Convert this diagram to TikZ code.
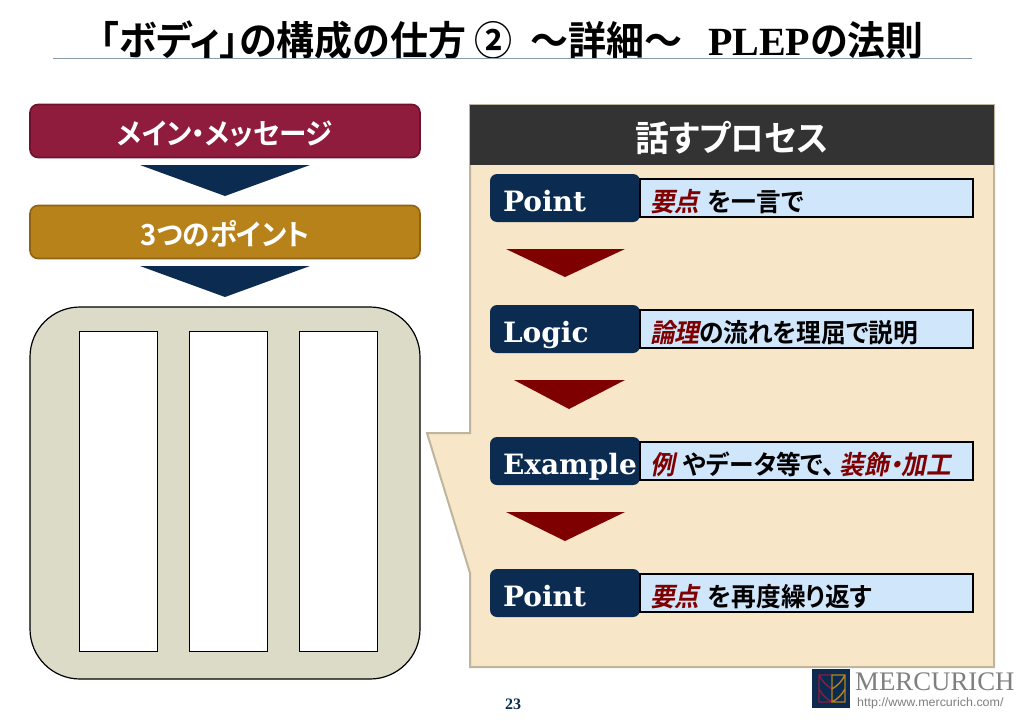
\documentclass[tikz,border=0pt]{standalone}
\usepackage{fontspec}
\usetikzlibrary{positioning}
\setmainfont{Liberation Serif}
\newfontfamily\jpfont{Noto Sans CJK JP Bold}[RawFeature=+palt,FakeStretch=0.95]
\newfontfamily\jpslant{Noto Sans CJK JP Bold}[RawFeature=+palt,FakeStretch=0.95,FakeSlant=0.2]
\newfontfamily\slabfont{DejaVu Serif}
\newfontfamily\urlfont{Liberation Sans}
\definecolor{wine}{HTML}{8F1B3D}
\definecolor{winedark}{HTML}{6E1230}
\definecolor{gold}{HTML}{B8821A}
\definecolor{golddark}{HTML}{8E6414}
\definecolor{navy}{HTML}{0B2B50}
\definecolor{darkred}{HTML}{7F0000}
\definecolor{sand}{HTML}{F7E6C8}
\definecolor{sandline}{HTML}{BFB49C}
\definecolor{khaki}{HTML}{DBDBC8}
\definecolor{barblue}{HTML}{D0E6FB}
\definecolor{rulegrey}{HTML}{8C9BA8}
\definecolor{logogrey}{HTML}{7F7F7F}
\newcommand{\redit}[1]{{\jpslant\color{darkred}#1}}
\begin{document}
\begin{tikzpicture}[x=1pt,y=-1pt]

\tikzstyle{headbox}=[rounded corners=8pt,line width=1.6pt,minimum width=390pt,minimum height=53pt,
	text=white,text height=26pt,text depth=0pt,font=\jpfont\fontsize{29}{29}\selectfont,outer sep=0pt]
\tikzstyle{column}=[draw=black,fill=white,line width=0.8pt,minimum width=78pt,minimum height=320pt,outer sep=0pt]
\tikzstyle{stepbox}=[fill=navy,rounded corners=7pt,minimum width=150pt,minimum height=48pt,inner sep=0pt,
	outer sep=0pt,text=white,text width=146pt,text height=26pt,text depth=0pt,align=left,
	execute at begin node=\hspace*{11pt},font=\slabfont\bfseries\fontsize{28}{28}\selectfont]
\tikzstyle{textbar}=[draw=black,fill=barblue,line width=1.4pt,minimum width=333pt,minimum height=38pt,inner sep=0pt,
	outer sep=0pt,text width=313pt,text height=26pt,text depth=0pt,align=left,font=\jpfont\fontsize{26}{26}\selectfont]

\useasboundingbox (0,0) rectangle (1024,720);
\fill[white] (0,0) rectangle (1024,720);

% title
\node[font=\jpfont\fontsize{40}{40}\selectfont](title) at (512,40){「ボディ」の構成の仕方 ②\ \ ～詳細～\ \ \ {\rmfamily\bfseries PLEP}の法則};
\coordinate (ruleL) at (53,58);
\coordinate (ruleR) at (972,58);
\draw[rulegrey,line width=0.8pt](ruleL)--(ruleR);

% left column
\node[headbox,draw=winedark,fill=wine](main) at (225,131){メイン・メッセージ};
\node[headbox,draw=golddark,fill=gold](three) at (225,232){3つのポイント};
\foreach \ya/\yb in {165/196,266/297}
	\fill[navy] (140,\ya)--(310,\ya)--(225,\yb)--cycle;

\node[draw=black,fill=khaki,line width=1.2pt,rounded corners=50pt,minimum width=390pt,minimum height=372pt,outer sep=0pt](body) at (225,493){};
\node[column](colA) at (118,491){};
\node[column](colB) at (228,491){};
\node[column](colC) at (338,491){};

% right panel
\draw[sandline,fill=sand,line width=2pt] (470,105)--(994,105)--(994,667)--(470,667)--(470,573)--(427,433)--(470,433)--cycle;
\node[fill=black!80,minimum width=524pt,minimum height=60pt,text=white,outer sep=0pt,text height=33pt,text depth=0pt,
	font=\jpfont\fontsize{35.5}{35.5}\selectfont](head) at (732,135){話すプロセス};

\node[stepbox](pointA) at (565,198){Point};
\node[stepbox](logic) at (565,329){Logic};
\node[stepbox](example) at (565,461){Example};
\node[stepbox](pointB) at (565,593){Point};

\node[textbar,right=0pt of pointA](barA){\redit{要点} を一言で};
\node[textbar,right=0pt of logic](barB){\redit{論理}の流れを理屈で説明};
\node[textbar,right=0pt of example](barC){\redit{例}\ やデータ等で、\hspace{5pt}\redit{装飾・加工}};
\node[textbar,right=0pt of pointB](barD){\redit{要点} を再度繰り返す};

\foreach \xa/\xm/\ya/\yb in {506/565/249/277,514/569/380/409,506/565/512/541}
	\fill[darkred] (\xa,\ya)--(625,\ya)--(\xm,\yb)--cycle;

% footer
\node[navy,font=\rmfamily\bfseries\fontsize{16}{16}\selectfont](page) at (513,704){23};
\node[fill=navy,minimum width=38pt,minimum height=39pt,outer sep=0pt](logo) at (831,688.5){};
\draw[wine,line width=1.4pt] (832,675)--(819,675)--(819,702)--(832,702) (819,675)to[bend right=15](832,689) (819,689)to[bend right=15](832,702);
\draw[gold,line width=1.4pt] (832,675)--(845,675)--(845,702)--(832,702)--cycle (845,675)to[bend left=15](832,689) (845,689)to[bend left=15](832,702);
\node[logogrey,anchor=west,inner sep=0pt,font=\rmfamily\fontsize{26.8}{26.8}\selectfont](brand) at (855,682){MERCURICH};
\node[logogrey,anchor=west,inner sep=0pt,font=\urlfont\fontsize{12}{12}\selectfont,xscale=1.04](url) at (857,703){http://www.mercurich.com/};

\end{tikzpicture}
\end{document}
